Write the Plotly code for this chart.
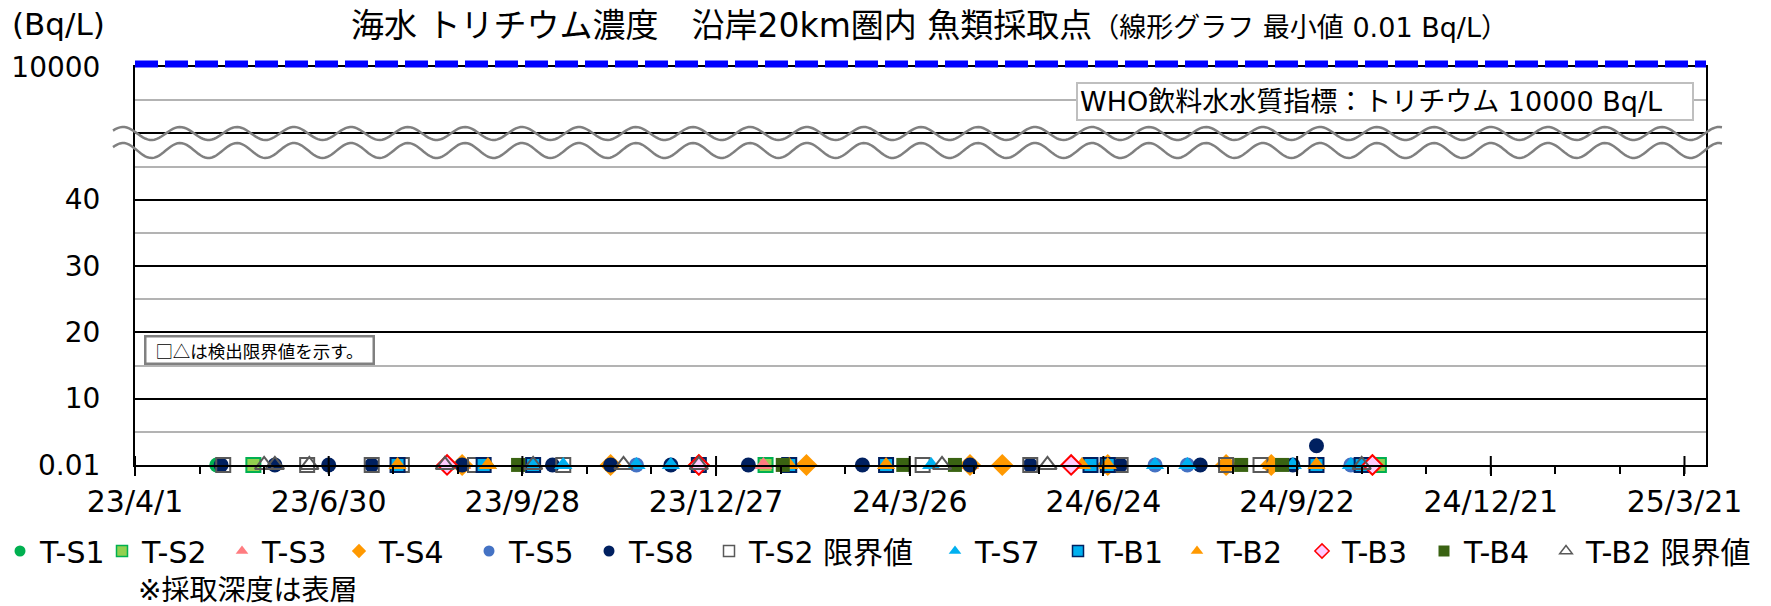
import numpy as np
import plotly.graph_objects as go

# ---------------- texts ----------------
TITLE_MAIN = "海水 トリチウム濃度　沿岸20km圏内 魚類採取点"
TITLE_SUB = "（線形グラフ 最小値 0.01 Bq/L）"
Y_UNIT = "(Bq/L)"
WHO_LABEL = "WHO飲料水水質指標：トリチウム 10000 Bq/L"
DL_NOTE = "□△は検出限界値を示す。"
DEPTH_NOTE = "※採取深度は表層"

# ---------------- axes ----------------
X_TICKS = ["2023-04-01", "2023-06-30", "2023-09-28", "2023-12-27", "2024-03-26",
           "2024-06-24", "2024-09-22", "2024-12-21", "2025-03-21"]
X_RANGE = ["2023-04-01", "2025-03-31"]
Y_TICK_VALUES = [0.01, 10, 20, 30, 40, 10000]
Y_TICK_LABELS = ["0.01", "10", "20", "30", "40", "10000"]
WHO_LIMIT = 10000

# ---------------- data (Bq/L) ----------------
TS1_DATES = ["2023-05-09", "2023-11-08"]
TS1_VALUES = [0.01, 0.01]

TS2_DATES = ["2023-05-26", "2024-01-19", "2024-10-30"]
TS2_VALUES = [0.01, 0.01, 0.01]

TS3_DATES = ["2023-08-31", "2024-01-18", "2024-04-23"]
TS3_VALUES = [0.01, 0.01, 0.01]

TS4_DATES = ["2023-08-31", "2023-11-08", "2023-12-19", "2024-02-07", "2024-04-23",
             "2024-05-08", "2024-06-26", "2024-08-20", "2024-09-10", "2024-10-27"]
TS4_VALUES = [0.01, 0.01, 0.01, 0.01, 0.01, 0.01, 0.01, 0.01, 0.01, 0.01]

TS5_DATES = ["2023-11-20", "2024-07-18", "2024-08-02", "2024-10-17"]
TS5_VALUES = [0.01, 0.01, 0.01, 0.01]

TS8_DATES = ["2023-05-11", "2023-06-05", "2023-06-30", "2023-07-20", "2023-08-31",
             "2023-10-12", "2023-11-08", "2023-12-06", "2024-01-11", "2024-03-04",
             "2024-04-23", "2024-05-21", "2024-07-02", "2024-08-08", "2024-09-20",
             "2024-10-01"]
TS8_VALUES = [0.01, 0.01, 0.01, 0.01, 0.01, 0.01, 0.01, 0.01, 0.01, 0.01,
              0.01, 0.01, 0.01, 0.01, 0.01, 2.9]

TS2_DL_DATES = ["2023-05-12", "2023-06-20", "2023-07-20", "2023-08-03", "2023-09-06",
                "2023-10-17", "2024-04-01", "2024-05-21", "2024-07-02", "2024-08-20",
                "2024-09-05"]
TS2_DL_VALUES = [0.01, 0.01, 0.01, 0.01, 0.01, 0.01, 0.01, 0.01, 0.01, 0.01, 0.01]

TS7_DATES = ["2023-09-12", "2023-10-17", "2023-11-20", "2023-12-06", "2024-04-05",
             "2024-07-18", "2024-08-02", "2024-09-20", "2024-10-17"]
TS7_VALUES = [0.01, 0.01, 0.01, 0.01, 0.01, 0.01, 0.01, 0.01, 0.01]

TB1_DATES = ["2023-08-01", "2023-09-10", "2023-10-03", "2023-12-19", "2024-01-30",
             "2024-03-15", "2024-06-18", "2024-06-26", "2024-10-01", "2024-10-22"]
TB1_VALUES = [0.01, 0.01, 0.01, 0.01, 0.01, 0.01, 0.01, 0.01, 0.01, 0.01]

TB2_DATES = ["2023-08-01", "2023-09-12", "2024-01-30", "2024-03-15", "2024-06-14",
             "2024-06-26", "2024-09-10", "2024-10-01"]
TB2_VALUES = [0.01, 0.01, 0.01, 0.01, 0.01, 0.01, 0.01, 0.01]

TB3_DATES = ["2023-08-24", "2023-12-19", "2024-06-09", "2024-10-27"]
TB3_VALUES = [0.01, 0.01, 0.01, 0.01]

TB4_DATES = ["2023-09-26", "2024-01-27", "2024-03-23", "2024-04-16", "2024-08-27",
             "2024-09-15"]
TB4_VALUES = [0.01, 0.01, 0.01, 0.01, 0.01, 0.01]

TB2_DL_DATES = ["2023-05-31", "2023-06-05", "2023-06-21", "2023-08-23", "2023-10-03",
                "2023-11-14", "2023-12-19", "2024-04-10", "2024-05-29", "2024-10-22"]
TB2_DL_VALUES = [0.01, 0.01, 0.01, 0.01, 0.01, 0.01, 0.01, 0.01, 0.01, 0.01]

SERIES_NAMES = ["T-S1", "T-S2", "T-S3", "T-S4", "T-S5", "T-S8", "T-S2 限界値",
                "T-S7", "T-B1", "T-B2", "T-B3", "T-B4", "T-B2 限界値"]
SERIES_DATA = [(TS1_DATES, TS1_VALUES), (TS2_DATES, TS2_VALUES), (TS3_DATES, TS3_VALUES),
               (TS4_DATES, TS4_VALUES), (TS5_DATES, TS5_VALUES), (TS8_DATES, TS8_VALUES),
               (TS2_DL_DATES, TS2_DL_VALUES), (TS7_DATES, TS7_VALUES), (TB1_DATES, TB1_VALUES),
               (TB2_DATES, TB2_VALUES), (TB3_DATES, TB3_VALUES), (TB4_DATES, TB4_VALUES),
               (TB2_DL_DATES, TB2_DL_VALUES)]

# ---------------- styles ----------------
STYLES = [
    dict(symbol="circle", color="#00B050", line=dict(width=0), size=15),
    dict(symbol="square", color="#92D050", line=dict(color="#00B050", width=2), size=14),
    dict(symbol="triangle-up", color="#FF7C80", line=dict(width=0), size=16),
    dict(symbol="diamond", color="#FF9900", line=dict(width=0), size=17),
    dict(symbol="circle", color="#4472C4", line=dict(width=0), size=15),
    dict(symbol="circle", color="#002060", line=dict(width=0), size=15),
    dict(symbol="square-open", color="#595959", line=dict(width=2), size=14),
    dict(symbol="triangle-up", color="#00B0F0", line=dict(width=0), size=16),
    dict(symbol="square", color="#00B0F0", line=dict(color="#002060", width=2), size=14),
    dict(symbol="triangle-up", color="#FF9900", line=dict(width=0), size=16),
    dict(symbol="diamond", color="#FFCCFF", line=dict(color="#FF0000", width=2), size=15),
    dict(symbol="square", color="#3A6312", line=dict(width=0), size=14),
    dict(symbol="triangle-up-open", color="#595959", line=dict(width=2), size=16),
]
# left edge (px) of each legend entry's label, as laid out in the original legend row
LEGEND_TEXT_X = [33, 150, 270, 387, 517, 637, 757, 983, 1106, 1225, 1350, 1472, 1594]

FONT = "DejaVu Sans, Noto Sans CJK JP, sans-serif"
CJK_FONT = "Noto Sans CJK JP, sans-serif"
W, H = 1771, 606
PLOT_L, PLOT_R, PLOT_T, PLOT_B = 135, 1706, 67, 465
PW, PH = PLOT_R - PLOT_L, PLOT_B - PLOT_T

# broken axis: values below the break are linear, the top of the axis is 10000
BREAK_TOP_POS = 60


def ypos(v):
    return BREAK_TOP_POS if v >= 1000 else v


def px_to_paper(xp, yp):
    return (xp - PLOT_L) / PW, (PLOT_B - yp) / PH


fig = go.Figure()

# data traces
for name, (dates, vals), st in zip(SERIES_NAMES, SERIES_DATA, STYLES):
    fig.add_trace(go.Scatter(
        x=dates, y=[ypos(v) for v in vals], mode="markers", name=name,
        showlegend=False, cliponaxis=False,
        marker=dict(symbol=st["symbol"], color=st["color"], size=st["size"],
                    line=st["line"]),
    ))

# legend entries (small symbols like the original legend), one legend box per entry
legend_layouts = {}
for i, (name, st) in enumerate(zip(SERIES_NAMES, STYLES)):
    lg = "legend" if i == 0 else f"legend{i + 1}"
    fig.add_trace(go.Scatter(
        x=[None], y=[None], mode="markers", name=name, showlegend=True, legend=lg,
        marker=dict(symbol=st["symbol"], color=st["color"], size=11,
                    line=dict(color=st["line"].get("color", st["color"]),
                              width=min(st["line"].get("width", 0), 1.5))),
    ))
    legend_layouts[lg] = dict(
        orientation="h", xref="container", yref="container",
        x=(LEGEND_TEXT_X[i] - 48) / W, xanchor="left", y=1 - 551 / H, yanchor="middle",
        font=dict(size=30, color="black", family=FONT),
        itemwidth=30, bgcolor="rgba(0,0,0,0)", borderwidth=0,
    )

shapes = []
# break waves
for center, amp in [(133.5, 6.5), (150.5, 7.5)]:
    xs = np.linspace(113, 1722, 700)
    ys = center - amp * np.cos(2 * np.pi * (xs - 123) / 57.0)
    pts = [px_to_paper(a, b) for a, b in zip(xs, ys)]
    path = "M " + " L ".join(f"{a:.5f},{b:.5f}" for a, b in pts)
    shapes.append(dict(type="path", xref="paper", yref="paper", path=path,
                       line=dict(color="#808080", width=2.5), layer="above"))

# WHO guideline line (10000 Bq/L) at top of the axis
who_y = 1 + 3.0 / PH
shapes.append(dict(type="line", xref="paper", yref="paper", x0=0, x1=1,
                   y0=who_y, y1=who_y,
                   line=dict(color="#0000FF", width=7, dash="23px,7px"), layer="above"))

# major ticks crossing the axis
for d in X_TICKS:
    shapes.append(dict(type="line", xref="x", yref="paper", x0=d, x1=d,
                       y0=-9 / PH, y1=9 / PH, line=dict(color="black", width=2),
                       layer="above"))

annotations = [
    dict(text=Y_UNIT, xref="paper", yref="paper",
         x=px_to_paper(10, 0)[0], y=px_to_paper(0, 24)[1], xanchor="left", yanchor="middle",
         showarrow=False, font=dict(size=31, color="black", family=FONT)),
    dict(text=WHO_LABEL, xref="paper", yref="paper",
         x=px_to_paper(1694, 0)[0], y=px_to_paper(0, 101)[1], xanchor="right", yanchor="middle",
         showarrow=False, font=dict(size=27, color="black", family=FONT), align="left",
         bgcolor="white", bordercolor="#BFBFBF", borderwidth=2, borderpad=2, width=610),
    dict(text=DL_NOTE, xref="paper", yref="paper",
         x=px_to_paper(144, 0)[0], y=px_to_paper(0, 350)[1], xanchor="left", yanchor="middle",
         showarrow=False, font=dict(size=17.5, color="black", family=CJK_FONT),
         bgcolor="white", bordercolor="#808080", borderwidth=2.5, borderpad=0, width=226),
    dict(text=DEPTH_NOTE, xref="paper", yref="paper",
         x=px_to_paper(136, 0)[0], y=px_to_paper(0, 590)[1], xanchor="left", yanchor="middle",
         showarrow=False, font=dict(size=28, color="black", family=FONT)),
]

fig.update_layout(
    width=W, height=H,
    margin=dict(l=PLOT_L, r=W - PLOT_R, t=PLOT_T, b=H - PLOT_B, pad=0),
    paper_bgcolor="white", plot_bgcolor="white",
    font=dict(family=FONT, size=28, color="black"),
    title=dict(text=TITLE_MAIN + f"<span style='font-size:27px'>{TITLE_SUB}</span>",
               x=0.5 + 9 / PW, xref="paper", xanchor="center",
               y=1 - 25 / H, yref="container", yanchor="middle",
               font=dict(size=33, color="black", family=FONT)),
    showlegend=True,
    shapes=shapes,
    annotations=annotations,
    **legend_layouts,
)

fig.update_xaxes(
    type="date", range=X_RANGE, tickvals=X_TICKS, tickformat="%y/%-m/%-d",
    ticks="outside", ticklen=9, tickwidth=2, tickcolor="black",
    showline=True, linecolor="black", linewidth=2, mirror=True,
    showgrid=False, zeroline=False, automargin=False,
    tickfont=dict(size=30, family=FONT, color="black"),
    minor=dict(tick0=X_RANGE[0], dtick=30 * 86400000, ticks="outside", ticklen=7,
               tickwidth=2, tickcolor="black", showgrid=False),
)

y_tickvals = [ypos(v) for v in Y_TICK_VALUES]
fig.update_yaxes(
    range=[0, BREAK_TOP_POS],
    tickvals=y_tickvals + [50], ticktext=Y_TICK_LABELS + [""],
    ticks="", ticklabelstandoff=27,
    showline=True, linecolor="black", linewidth=2, mirror=True,
    showgrid=True, gridcolor="black", gridwidth=2, zeroline=False, automargin=False,
    tickfont=dict(size=28, family=FONT, color="black"),
    minor=dict(tickvals=[5, 15, 25, 35, 45, 55], showgrid=True, gridcolor="#B3B3B3",
               gridwidth=2, ticks=""),
)

# remove the browser's default page margin so the figure sits at the window origin
fig.write_html("out.html", config={"displayModeBar": False},
               post_script="document.body.style.margin='0px';")
